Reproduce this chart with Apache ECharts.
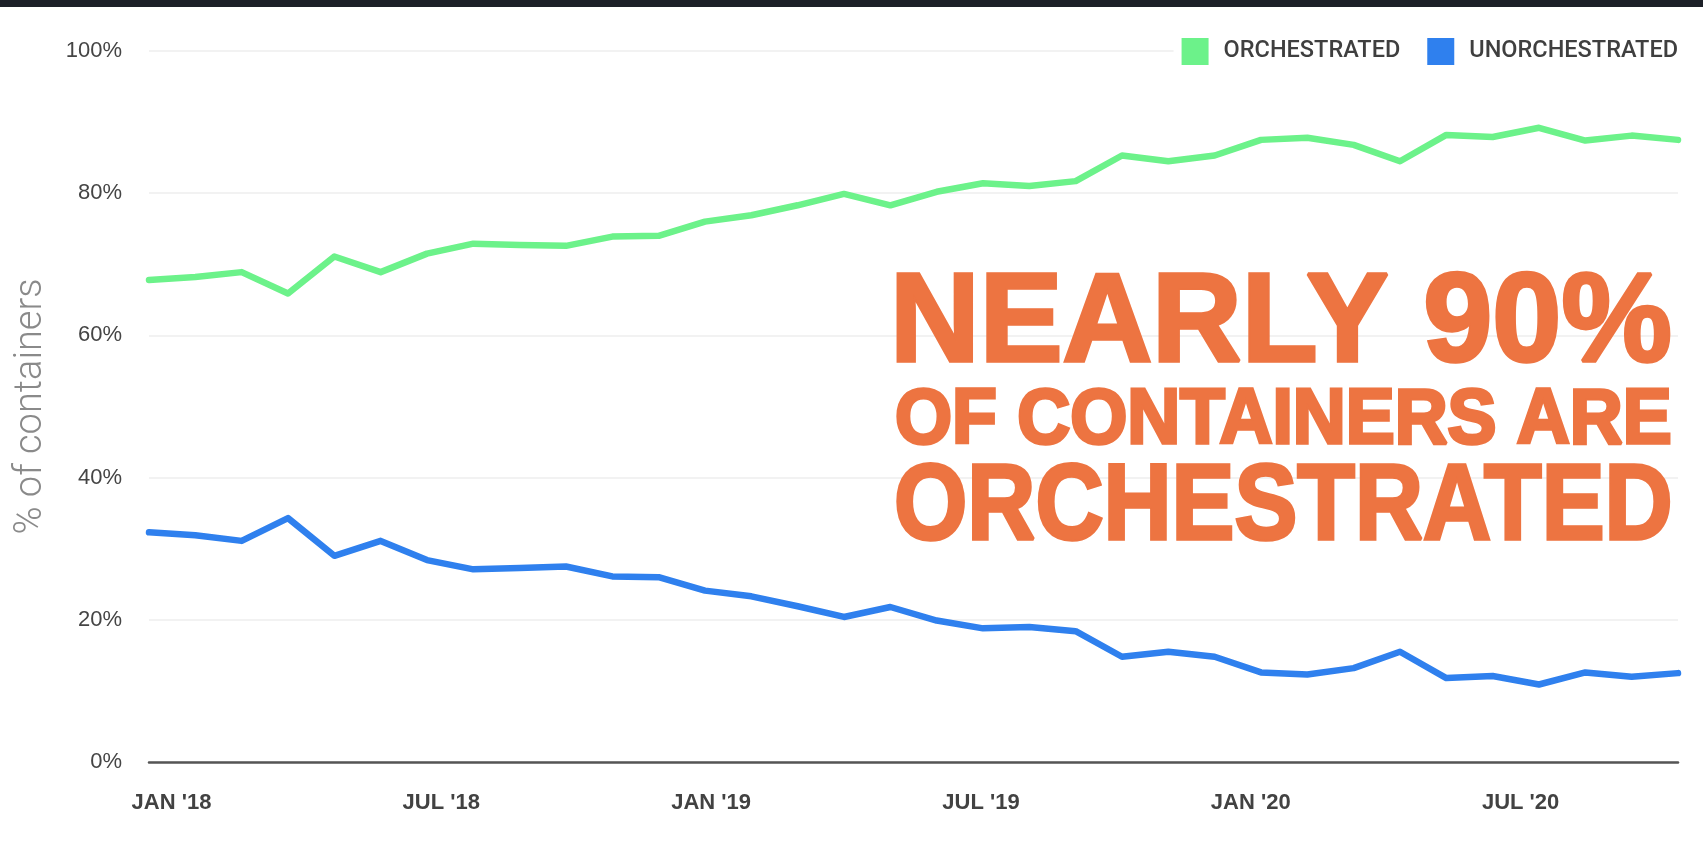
<!DOCTYPE html>
<html>
<head>
<meta charset="utf-8">
<script src="https://cdn.jsdelivr.net/npm/echarts@6/dist/echarts.min.js"></script>
<style>
  html, body { margin: 0; padding: 0; background: #ffffff; }
  #chart { width: 1703px; height: 847px; }
</style>
</head>
<body>
<div id="chart"></div>
<script>
// ---- data ----
const months = [
  "JAN '18","FEB '18","MAR '18","APR '18","MAY '18","JUN '18","JUL '18","AUG '18","SEP '18","OCT '18","NOV '18","DEC '18",
  "JAN '19","FEB '19","MAR '19","APR '19","MAY '19","JUN '19","JUL '19","AUG '19","SEP '19","OCT '19","NOV '19","DEC '19",
  "JAN '20","FEB '20","MAR '20","APR '20","MAY '20","JUN '20","JUL '20","AUG '20","SEP '20","OCT '20"
];
const orchestrated = [67.8,68.2,68.9,65.9,71.1,68.9,71.5,72.9,72.7,72.6,73.9,74.0,76.0,76.9,78.3,79.9,78.3,80.2,81.4,81.0,81.7,85.3,84.5,85.3,87.5,87.8,86.8,84.5,88.2,87.9,89.2,87.4,88.1,87.5];
const unorchestrated = [32.3,31.9,31.1,34.3,29.0,31.1,28.4,27.1,27.3,27.5,26.1,26.0,24.1,23.3,21.9,20.4,21.8,19.9,18.8,19.0,18.4,14.8,15.5,14.8,12.6,12.3,13.2,15.5,11.8,12.1,10.9,12.6,12.0,12.5];
const seriesNames = ["ORCHESTRATED", "UNORCHESTRATED"];
const yAxisTitle = "% of containers";
const headline = ["NEARLY 90%", "OF CONTAINERS ARE", "ORCHESTRATED"];

const GREEN = '#6cf28a';
const BLUE = '#2f80ee';
const ORANGE = '#ed7441';

const chart = echarts.init(document.getElementById('chart'), null, { renderer: 'canvas' });

const headStyle = (text, size) => ({
  text: text,
  font: 'bold ' + size + 'px "Liberation Sans", Arial, sans-serif',
  fill: ORANGE,
  stroke: ORANGE,
  lineWidth: 3.5,
  lineJoin: 'round',
  align: 'left', verticalAlign: 'middle',
  textAlign: 'left', textVerticalAlign: 'middle'
});

const option = {
  backgroundColor: '#ffffff',
  animation: false,
  grid: { left: 149, right: 25, top: 51, bottom: 85, containLabel: false },
  legend: {
    data: seriesNames,
    right: 25,
    top: 33,
    icon: 'rect',
    itemWidth: 27,
    itemHeight: 27,
    itemGap: 27,
    backgroundColor: '#ffffff',
    padding: [5, 0, 5, 8],
    textStyle: {
      fontFamily: 'Roboto, "Liberation Sans", Arial, sans-serif',
      fontWeight: 500,
      fontSize: 23.5,
      color: '#3f3f3f',
      padding: [0, 0, 0, 10]
    }
  },
  xAxis: [
    {
      type: 'category',
      data: months,
      boundaryGap: false,
      show: false
    },
    {
      type: 'category',
      data: months,
      boundaryGap: true,
      position: 'bottom',
      axisLine: { show: true, lineStyle: { color: '#555555', width: 2.5 } },
      axisTick: { show: false },
      splitLine: { show: false },
      axisLabel: {
        interval: 5,
        margin: 30,
        fontFamily: '"Liberation Sans", Arial, sans-serif',
        fontWeight: 'bold',
        fontSize: 22,
        color: '#424242'
      }
    }
  ],
  yAxis: {
    type: 'value',
    min: 0,
    max: 100,
    interval: 20,
    name: yAxisTitle,
    nameLocation: 'middle',
    nameRotate: 90,
    nameGap: 99,
    nameTextStyle: {
      fontFamily: 'Roboto, "Open Sans", sans-serif',
      fontWeight: 300,
      fontSize: 38,
      color: '#8a8a8a'
    },
    axisLine: { show: false },
    axisTick: { show: false },
    axisLabel: {
      formatter: '{value}%',
      margin: 27,
      fontFamily: '"Liberation Sans", Arial, sans-serif',
      fontSize: 22,
      color: '#454545'
    },
    splitLine: { show: true, lineStyle: { color: '#eeeeee', width: 1.5 } }
  },
  series: [
    {
      name: seriesNames[0],
      type: 'line',
      xAxisIndex: 0,
      data: orchestrated,
      symbol: 'none',
      color: GREEN,
      lineStyle: { color: GREEN, width: 6.5, cap: 'round', join: 'round' },
      z: 3
    },
    {
      name: seriesNames[1],
      type: 'line',
      xAxisIndex: 0,
      data: unorchestrated,
      symbol: 'none',
      color: BLUE,
      lineStyle: { color: BLUE, width: 6.5, cap: 'round', join: 'round' },
      z: 3
    }
  ],
  graphic: [
    {
      type: 'rect',
      left: 0, top: 0,
      shape: { x: 0, y: 0, width: 1703, height: 7 },
      style: { fill: '#1d2028' },
      z: 100
    },
    { type: 'text', x: 890, y: 326, scaleX: 0.985, z: 50, style: headStyle(headline[0], 126) },
    { type: 'text', x: 895, y: 421, scaleX: 0.94, z: 50, style: headStyle(headline[1], 78) },
    { type: 'text', x: 894, y: 509, scaleX: 0.881, z: 50, style: headStyle(headline[2], 107) }
  ]
};

chart.setOption(option);
</script>
</body>
</html>
